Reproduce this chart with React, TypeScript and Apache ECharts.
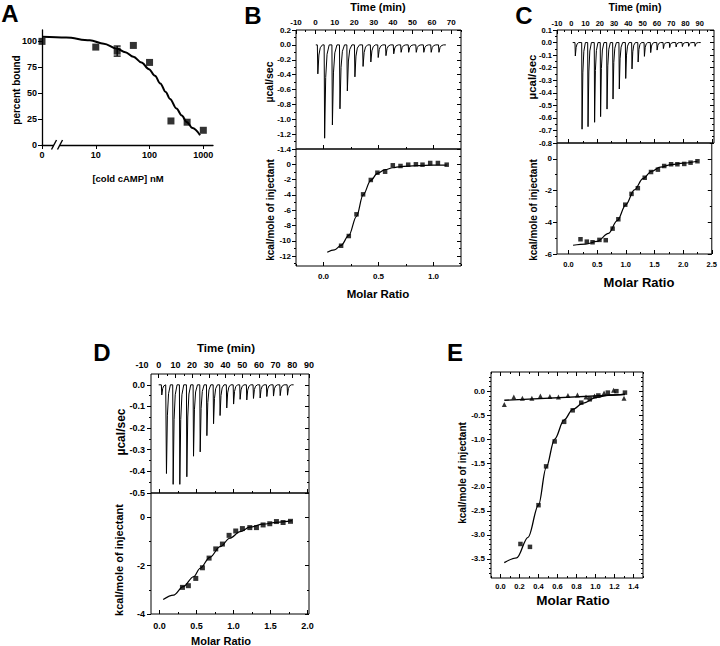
import React, { useEffect, useRef } from 'react';
import * as echarts from 'echarts';

const FONT = '"Liberation Sans", Arial, Helvetica, sans-serif';

// ===== Panel A: competition binding =====
const aConc = [0, 10, 25, 50, 100, 250, 500, 1000];
const aBound = [100, 94.5, 90.6, 96.1, 79.7, 23.2, 22.0, 14.2];
const aErrConc = [25];
const aErrLow = [85.8];
const aErrHigh = [95.5];
const aFitLogConc = [0, 0.45, 0.89, 1.15, 1.39, 1.55, 1.7, 1.85, 1.99, 2.1, 2.2, 2.3, 2.38, 2.5, 2.6, 2.69, 2.8, 2.94];
const aFitBound = [104.5, 103.8, 101, 97.8, 93.2, 89.6, 85.1, 79.6, 73.2, 66.8, 59.4, 51.2, 44.5, 35.2, 28.4, 22.2, 16.3, 9.4];
const aXTickPos = [0, 1, 2, 3];
const aXTickLabels = ['0', '10', '100', '1000'];
const aYTicks = [0, 25, 50, 75, 100];

// ===== Panel B =====
const bInjTime = [1.0, 4.5, 8.5, 12.4, 16.2, 20.1, 24.3, 28.3, 32.1, 36.1, 40.1, 43.9, 47.8, 51.7, 55.6, 59.4, 63.4];
const bInjPeak = [-0.39, -1.255, -1.077, -0.86, -0.62, -0.43, -0.29, -0.23, -0.17, -0.145, -0.12, -0.1, -0.1, -0.1, -0.1, -0.1, -0.1];
const bBaseline = [0.2, 67.2];
const bMolar = [0.16, 0.23, 0.3, 0.36, 0.43, 0.49, 0.56, 0.63, 0.7, 0.77, 0.84, 0.9, 0.97, 1.04, 1.12];
const bHeat = [-10.65, -9.38, -6.54, -3.93, -2.05, -1.1, -0.97, -0.13, -0.22, -0.05, 0, -0.05, 0.17, 0.17, -0.05];
const bFitMolar = [0.034, 0.1, 0.16, 0.23, 0.3, 0.36, 0.43, 0.49, 0.56, 0.63, 0.7, 0.85, 1.0, 1.12];
const bFitHeat = [-11.5, -11.2, -10.6, -9.3, -6.8, -4.0, -2.1, -1.2, -0.7, -0.45, -0.3, -0.18, -0.12, -0.1];
const bTimeLabels = [-10, 0, 10, 20, 30, 40, 50, 60, 70];
const bRateLabels = [-1.4, -1.2, -1.0, -0.8, -0.6, -0.4, -0.2, 0.0, 0.2];
const bHeatLabels = [-12, -10, -8, -6, -4, -2, 0];
const bMolarLabels = [0, 0.5, 1.0];

// ===== Panel C =====
const cInjTime = [2.6, 7.3, 11.5, 16.1, 20.3, 24.8, 29.0, 33.4, 37.9, 42.3, 46.6, 51.0, 55.4, 59.9, 64.3, 68.7, 73.2, 77.6, 82.0, 86.5];
const cInjPeak = [-0.107, -0.69, -0.67, -0.635, -0.59, -0.53, -0.45, -0.37, -0.286, -0.21, -0.155, -0.11, -0.08, -0.06, -0.048, -0.04, -0.035, -0.032, -0.03, -0.03];
const cBaseline = [1.0, 90.7];
const cMolar = [0.21, 0.32, 0.42, 0.54, 0.65, 0.77, 0.87, 0.99, 1.1, 1.21, 1.33, 1.44, 1.56, 1.67, 1.79, 1.9, 2.02, 2.13, 2.25];
const cHeat = [-5.07, -5.22, -5.26, -5.11, -5.13, -4.4, -3.81, -2.89, -2.21, -1.85, -1.19, -0.83, -0.68, -0.45, -0.34, -0.34, -0.32, -0.24, -0.15];
const cFitMolar = [0.08, 0.3, 0.5, 0.7, 0.85, 1.0, 1.15, 1.3, 1.45, 1.6, 1.8, 2.0, 2.25];
const cFitHeat = [-5.45, -5.38, -5.2, -4.7, -3.9, -2.9, -1.95, -1.25, -0.78, -0.52, -0.36, -0.27, -0.15];
const cTimeLabels = [-10, 0, 10, 20, 30, 40, 50, 60, 70, 80, 90];
const cRateLabels = [-0.8, -0.7, -0.6, -0.5, -0.4, -0.3, -0.2, -0.1, 0.0, 0.1];
const cHeatLabels = [-6, -4, -2, 0];
const cMolarLabels = [0, 0.5, 1.0, 1.5, 2.0, 2.5];

// ===== Panel D =====
const dInjTime = [1.6, 4.4, 8.4, 12.4, 16.6, 20.6, 24.6, 28.6, 32.6, 36.5, 40.5, 44.6, 48.5, 52.5, 56.5, 60.5, 64.5, 68.5, 72.5, 76.9];
const dInjPeak = [-0.047, -0.41, -0.46, -0.46, -0.425, -0.33, -0.31, -0.235, -0.18, -0.142, -0.107, -0.089, -0.067, -0.07, -0.063, -0.061, -0.054, -0.052, -0.05, -0.048];
const dBaseline = [0, 80.8];
const dMolar = [0.31, 0.39, 0.49, 0.58, 0.67, 0.76, 0.85, 0.94, 1.03, 1.12, 1.22, 1.31, 1.4, 1.49, 1.58, 1.67, 1.77];
const dHeat = [-2.9, -2.83, -2.53, -2.09, -1.69, -1.31, -1.11, -0.75, -0.57, -0.47, -0.43, -0.43, -0.32, -0.27, -0.18, -0.22, -0.17];
const dFitMolar = [0.05, 0.19, 0.32, 0.46, 0.55, 0.68, 0.82, 0.95, 1.09, 1.22, 1.4, 1.58, 1.79];
const dFitHeat = [-3.4, -3.22, -2.87, -2.46, -2.11, -1.66, -1.22, -0.87, -0.6, -0.41, -0.29, -0.21, -0.14];
const dTimeLabels = [-10, 0, 10, 20, 30, 40, 50, 60, 70, 80, 90];
const dRateLabels = [-0.5, -0.4, -0.3, -0.2, -0.1, 0.0];
const dHeatLabels = [-4, -2, 0];
const dMolarLabels = [0, 0.5, 1.0, 1.5, 2.0];

// ===== Panel E =====
const eSqMolar = [0.21, 0.31, 0.4, 0.48, 0.57, 0.67, 0.76, 0.85, 0.94, 1.03, 1.13, 1.22, 1.31];
const eSqHeat = [-3.19, -3.25, -2.38, -1.57, -1.05, -0.64, -0.4, -0.24, -0.17, -0.09, -0.03, 0.0, -0.03];
const eSqFitMolar = [0.04, 0.17, 0.29, 0.4, 0.48, 0.57, 0.67, 0.76, 0.87, 1.01, 1.15, 1.31];
const eSqFitHeat = [-3.58, -3.48, -3.05, -2.38, -1.6, -1.0, -0.6, -0.38, -0.25, -0.13, -0.08, -0.06];
const eTriMolar = [0.04, 0.14, 0.23, 0.33, 0.42, 0.52, 0.61, 0.71, 0.81, 0.9, 0.99, 1.09, 1.19, 1.3];
const eTriHeat = [-0.28, -0.12, -0.15, -0.15, -0.1, -0.11, -0.12, -0.09, -0.08, -0.12, -0.1, -0.04, 0.02, -0.15];
const eTriFitMolar = [0.04, 1.31];
const eTriFitHeat = [-0.19, -0.07];
const eHeatLabels = [-3.5, -3.0, -2.5, -2.0, -1.5, -1.0, -0.5, 0.0];
const eMolarLabels = [0, 0.2, 0.4, 0.6, 0.8, 1.0, 1.2, 1.4];

// ---------- helpers ----------
const seq = (a: number, b: number, s: number) => {
  const out: number[] = [];
  const n = Math.round((b - a) / s);
  for (let i = 0; i <= n; i++) out.push(+(a + i * s).toFixed(4));
  return out;
};
const f1 = (v: number) => (Math.abs(v) < 1e-9 ? '0.0' : v.toFixed(1));
const fi = (v: number) => String(Math.round(v));
const pairs = (xs: number[], ys: number[]) => xs.map((x, i) => [x, ys[i]]);

function thermo(times: number[], peaks: number[], base: number[]) {
  const pts: number[][] = [[base[0], 0]];
  times.forEach((t, i) => {
    const d = peaks[i];
    pts.push([t, 0], [t + 0.25, d], [t + 0.8, d * 0.35], [t + 1.5, d * 0.1], [t + 2.6, 0]);
  });
  pts.push([base[1], 0]);
  return pts;
}

function buildOption() {
  const xAxes: any[] = [];
  const yAxes: any[] = [];

  interface SideOpt {
    majors: number[];
    minors?: number[];
    inside: boolean;
    labels?: number[];
    fmt?: (v: number) => string;
    fs?: number;
    margin?: number;
    line?: boolean;
    majorLen?: number;
    minorLen?: number;
  }
  function addSide(gi: number, side: string, min: number, max: number, o: SideOpt): number {
    const isX = side === 'top' || side === 'bottom';
    const arr = isX ? xAxes : yAxes;
    const base = {
      type: 'value', gridIndex: gi, position: side, min, max,
      splitLine: { show: false }, splitArea: { show: false },
    };
    const hasTicks = o.majors.length > 0;
    arr.push({
      ...base,
      axisLine: { show: !!o.line, onZero: false, lineStyle: { color: '#000', width: 1.3 } },
      axisTick: hasTicks
        ? { show: true, inside: o.inside, length: o.majorLen ?? 4, customValues: o.majors, lineStyle: { color: '#000', width: 1 } }
        : { show: false },
      axisLabel: o.labels
        ? { show: true, customValues: o.labels, formatter: o.fmt, fontSize: o.fs ?? 8, fontWeight: 'bold', fontFamily: FONT, color: '#000', margin: o.margin ?? 4 }
        : { show: false },
    });
    const main = arr.length - 1;
    if (o.minors && o.minors.length) {
      arr.push({
        ...base,
        axisLine: { show: false, onZero: false },
        axisTick: { show: true, inside: o.inside, length: o.minorLen ?? 2, customValues: o.minors, lineStyle: { color: '#000', width: 1 } },
        axisLabel: { show: false },
      });
    }
    return main;
  }

  const grids = [
    { left: 42, top: 30, width: 171, height: 115, show: false },   // 0 A
    { left: 296, top: 30, width: 165, height: 119, show: true },   // 1 B top
    { left: 296, top: 149, width: 165, height: 117, show: true },  // 2 B bottom
    { left: 557, top: 30, width: 157, height: 113, show: true },   // 3 C top
    { left: 557, top: 143, width: 157, height: 111, show: true },  // 4 C bottom
    { left: 151, top: 374, width: 158, height: 119, show: true },  // 5 D top (box)
    { left: 151, top: 493, width: 158, height: 121, show: true },  // 6 D bottom
    { left: 491, top: 372, width: 152, height: 206, show: true },  // 7 E
    { left: 142, top: 374, width: 167, height: 119, show: false }, // 8 D time layer
  ].map((g) => ({ ...g, borderColor: '#000', borderWidth: 1, backgroundColor: 'transparent' }));

  // ---- A axes
  const aX = addSide(0, 'bottom', 0, 3.18, { majors: aXTickPos, inside: false, labels: aXTickPos, fmt: (v) => aXTickLabels[Math.round(v)], fs: 9, margin: 5, line: true });
  const aY = addSide(0, 'left', 0, 111, { majors: aYTicks, inside: false, labels: aYTicks, fmt: fi, fs: 9, margin: 5, line: true });

  // ---- B top
  const bTX = addSide(1, 'top', -10, 75, { majors: bTimeLabels, minors: seq(-5, 75, 10), inside: true, labels: bTimeLabels, fmt: fi, fs: 8, margin: 4 });
  const bTY = addSide(1, 'left', -1.4, 0.2, { majors: bRateLabels, minors: seq(-1.3, 0.1, 0.2), inside: false, labels: bRateLabels, fmt: f1, fs: 8, margin: 5, majorLen: 4 });
  addSide(1, 'right', -1.4, 0.2, { majors: bRateLabels, minors: seq(-1.3, 0.1, 0.2), inside: true });
  // ---- B bottom
  const bBX = addSide(2, 'bottom', -0.25, 1.25, { majors: bMolarLabels, minors: [-0.25, 0.25, 0.75, 1.25], inside: true, labels: bMolarLabels, fmt: f1, fs: 8, margin: 6 });
  addSide(2, 'top', -0.25, 1.25, { majors: bMolarLabels, minors: [0.25, 0.75], inside: false });
  const bBY = addSide(2, 'left', -13.3, 2, { majors: seq(-12, 2, 2), minors: seq(-13, 1, 2), inside: false, labels: bHeatLabels, fmt: fi, fs: 8, margin: 5 });
  addSide(2, 'right', -13.3, 2, { majors: seq(-12, 2, 2), minors: seq(-13, 1, 2), inside: true });

  // ---- C top
  const cTX = addSide(3, 'top', -10, 100, { majors: cTimeLabels, minors: seq(-5, 95, 10), inside: true, labels: cTimeLabels, fmt: fi, fs: 7.5, margin: 3 });
  const cTY = addSide(3, 'left', -0.8, 0.1, { majors: cRateLabels, minors: seq(-0.75, 0.05, 0.1), inside: false, labels: cRateLabels, fmt: f1, fs: 7.5, margin: 5 });
  addSide(3, 'right', -0.8, 0.1, { majors: cRateLabels, minors: seq(-0.75, 0.05, 0.1), inside: true });
  // ---- C bottom
  const cBX = addSide(4, 'bottom', -0.2, 2.5, { majors: cMolarLabels, minors: seq(0.25, 2.25, 0.5), inside: true, labels: cMolarLabels, fmt: f1, fs: 7.5, margin: 6 });
  addSide(4, 'top', -0.2, 2.5, { majors: cMolarLabels, minors: seq(0.25, 2.25, 0.5), inside: false });
  const cBY = addSide(4, 'left', -6, 1, { majors: seq(-6, 0, 2), minors: seq(-5, 1, 2), inside: false, labels: cHeatLabels, fmt: fi, fs: 8, margin: 5 });
  addSide(4, 'right', -6, 1, { majors: seq(-6, 0, 2), minors: seq(-5, 1, 2), inside: true });

  // ---- D top (box grid needs an x axis too)
  addSide(5, 'bottom', 0, 1, { majors: [], inside: true });
  addSide(5, 'left', -0.5, 0.05, { majors: dRateLabels, minors: seq(-0.45, -0.05, 0.1), inside: false, labels: dRateLabels, fmt: f1, fs: 9, margin: 6 });
  addSide(5, 'right', -0.5, 0.05, { majors: dRateLabels, minors: seq(-0.45, -0.05, 0.1), inside: true });
  const dTX = addSide(8, 'top', -10, 90, { majors: seq(0, 90, 10), minors: seq(5, 85, 10), inside: true, labels: dTimeLabels, fmt: fi, fs: 9, margin: 5 });
  const dTY2 = addSide(8, 'left', -0.5, 0.05, { majors: [], inside: false });
  // ---- D bottom
  const dBX = addSide(6, 'bottom', -0.115, 2.02, { majors: dMolarLabels, minors: seq(0.25, 1.75, 0.5), inside: true, labels: dMolarLabels, fmt: f1, fs: 9, margin: 7 });
  addSide(6, 'top', -0.115, 2.02, { majors: dMolarLabels, minors: seq(0.25, 1.75, 0.5), inside: false });
  const dBY = addSide(6, 'left', -4, 1, { majors: seq(-4, 0, 2), minors: seq(-3, 1, 2), inside: false, labels: dHeatLabels, fmt: fi, fs: 9, margin: 6 });
  addSide(6, 'right', -4, 1, { majors: seq(-4, 0, 2), minors: seq(-3, 1, 2), inside: true });

  // ---- E
  const eMinY = seq(-3.8, 0.3, 0.1).filter((v) => Math.abs(v * 2 - Math.round(v * 2)) > 1e-6);
  const eX = addSide(7, 'bottom', -0.1, 1.5, { majors: eMolarLabels, minors: seq(-0.1, 1.5, 0.2), inside: true, labels: eMolarLabels, fmt: f1, fs: 7.5, margin: 4 });
  addSide(7, 'top', -0.1, 1.5, { majors: eMolarLabels, minors: seq(-0.1, 1.5, 0.2), inside: true });
  const eY = addSide(7, 'left', -3.9, 0.4, { majors: eHeatLabels, minors: eMinY, inside: false, labels: eHeatLabels, fmt: f1, fs: 8, margin: 6 });
  addSide(7, 'right', -3.9, 0.4, { majors: eHeatLabels, minors: eMinY, inside: true });

  const sq = (size: number) => ({ type: 'scatter', symbol: 'rect', symbolSize: size, itemStyle: { color: '#000' }, clip: false, silent: true, z: 5 });
  const fit = (w: number) => ({ type: 'line', showSymbol: false, smooth: 0.35, smoothMonotone: 'x', lineStyle: { color: '#000', width: w }, clip: false, silent: true });
  const raw = () => ({ type: 'line', showSymbol: false, lineStyle: { color: '#000', width: 1 }, clip: false, silent: true });

  const series: any[] = [
    // A
    { ...fit(2), xAxisIndex: aX, yAxisIndex: aY, data: pairs(aFitLogConc, aFitBound) },
    { ...sq(7), xAxisIndex: aX, yAxisIndex: aY, data: aConc.map((c, i) => [c === 0 ? 0 : Math.log10(c), aBound[i]]) },
    {
      type: 'custom', xAxisIndex: aX, yAxisIndex: aY, silent: true,
      data: aErrConc.map((c, i) => [Math.log10(c), aErrLow[i], aErrHigh[i]]),
      renderItem: (params: any, api: any) => {
        const p1 = api.coord([api.value(0), api.value(1)]);
        const p2 = api.coord([api.value(0), api.value(2)]);
        const st = { stroke: '#000', lineWidth: 1.3 };
        return {
          type: 'group',
          children: [
            { type: 'line', shape: { x1: p1[0], y1: p1[1], x2: p2[0], y2: p2[1] }, style: st },
            { type: 'line', shape: { x1: p1[0] - 3.5, y1: p1[1], x2: p1[0] + 3.5, y2: p1[1] }, style: st },
            { type: 'line', shape: { x1: p2[0] - 3.5, y1: p2[1], x2: p2[0] + 3.5, y2: p2[1] }, style: st },
          ],
        };
      },
    },
    // B
    { ...raw(), xAxisIndex: bTX, yAxisIndex: bTY, data: thermo(bInjTime, bInjPeak, bBaseline) },
    { ...fit(1.2), xAxisIndex: bBX, yAxisIndex: bBY, data: pairs(bFitMolar, bFitHeat) },
    { ...sq(4.5), xAxisIndex: bBX, yAxisIndex: bBY, data: pairs(bMolar, bHeat) },
    // C
    { ...raw(), xAxisIndex: cTX, yAxisIndex: cTY, data: thermo(cInjTime, cInjPeak, cBaseline) },
    { ...fit(1.2), xAxisIndex: cBX, yAxisIndex: cBY, data: pairs(cFitMolar, cFitHeat) },
    { ...sq(4.5), xAxisIndex: cBX, yAxisIndex: cBY, data: pairs(cMolar, cHeat) },
    // D
    { ...raw(), xAxisIndex: dTX, yAxisIndex: dTY2, data: thermo(dInjTime, dInjPeak, dBaseline) },
    { ...fit(1.2), xAxisIndex: dBX, yAxisIndex: dBY, data: pairs(dFitMolar, dFitHeat) },
    { ...sq(5), xAxisIndex: dBX, yAxisIndex: dBY, data: pairs(dMolar, dHeat) },
    // E
    { ...fit(1.3), xAxisIndex: eX, yAxisIndex: eY, data: pairs(eSqFitMolar, eSqFitHeat) },
    { ...fit(1.3), smooth: false, xAxisIndex: eX, yAxisIndex: eY, data: pairs(eTriFitMolar, eTriFitHeat) },
    { ...sq(4.5), xAxisIndex: eX, yAxisIndex: eY, data: pairs(eSqMolar, eSqHeat) },
    { ...sq(5), symbol: 'triangle', xAxisIndex: eX, yAxisIndex: eY, data: pairs(eTriMolar, eTriHeat) },
  ];

  const txt = (x: number, y: number, text: string, fs: number, rot = 0) => ({
    type: 'text', x, y, rotation: rot, z: 100,
    style: {
      text, fontSize: fs, fontWeight: 'bold', fontFamily: FONT, fill: '#000',
      align: 'center', verticalAlign: 'middle', textAlign: 'center', textVerticalAlign: 'middle',
    },
  });
  const V = Math.PI / 2;
  const graphic: any[] = [
    txt(10, 13, 'A', 24), txt(253, 15, 'B', 24), txt(524, 15, 'C', 24), txt(102, 352, 'D', 24), txt(455, 352, 'E', 24),
    txt(16, 90, 'percent bound', 10, V),
    txt(128, 178, '[cold cAMP] nM', 9.5),
    txt(378, 7, 'Time (min)', 11),
    txt(269, 82, 'µcal/sec', 10.5, V),
    txt(270, 210, 'kcal/mole of injectant', 10, V),
    txt(378, 294, 'Molar Ratio', 11.5),
    txt(635, 7, 'Time (min)', 10.5),
    txt(532, 77, 'µcal/sec', 11.5, V),
    txt(533, 210, 'kcal/mole of injectant', 10, V),
    txt(639, 282, 'Molar Ratio', 13),
    txt(226, 348, 'Time (min)', 11.5),
    txt(121, 432, 'µcal/sec', 12, V),
    txt(119, 560, 'kcal/mole of injectant', 11, V),
    txt(221, 641, 'Molar Ratio', 11),
    txt(462, 473, 'kcal/mole of injectant', 10, V),
    txt(573, 600, 'Molar Ratio', 13.5),
    { type: 'rect', z: 100, shape: { x: 54, y: 142, width: 6, height: 5 }, style: { fill: '#fff' } },
    { type: 'line', z: 101, shape: { x1: 51.5, y1: 149.5, x2: 56.5, y2: 140 }, style: { stroke: '#000', lineWidth: 1.4 } },
    { type: 'line', z: 101, shape: { x1: 57.5, y1: 149.5, x2: 62.5, y2: 140 }, style: { stroke: '#000', lineWidth: 1.4 } },
  ];

  return {
    animation: false,
    backgroundColor: '#fff',
    grid: grids,
    xAxis: xAxes,
    yAxis: yAxes,
    series,
    graphic,
  };
}

export default function App() {
  const ref = useRef<HTMLDivElement>(null);
  useEffect(() => {
    if (!ref.current) return;
    const chart = echarts.init(ref.current, undefined, { renderer: 'svg' });
    chart.setOption(buildOption() as any);
    return () => chart.dispose();
  }, []);
  return <div ref={ref} style={{ position: 'fixed', left: 0, top: 0, width: 720, height: 646, background: '#fff' }} />;
}
